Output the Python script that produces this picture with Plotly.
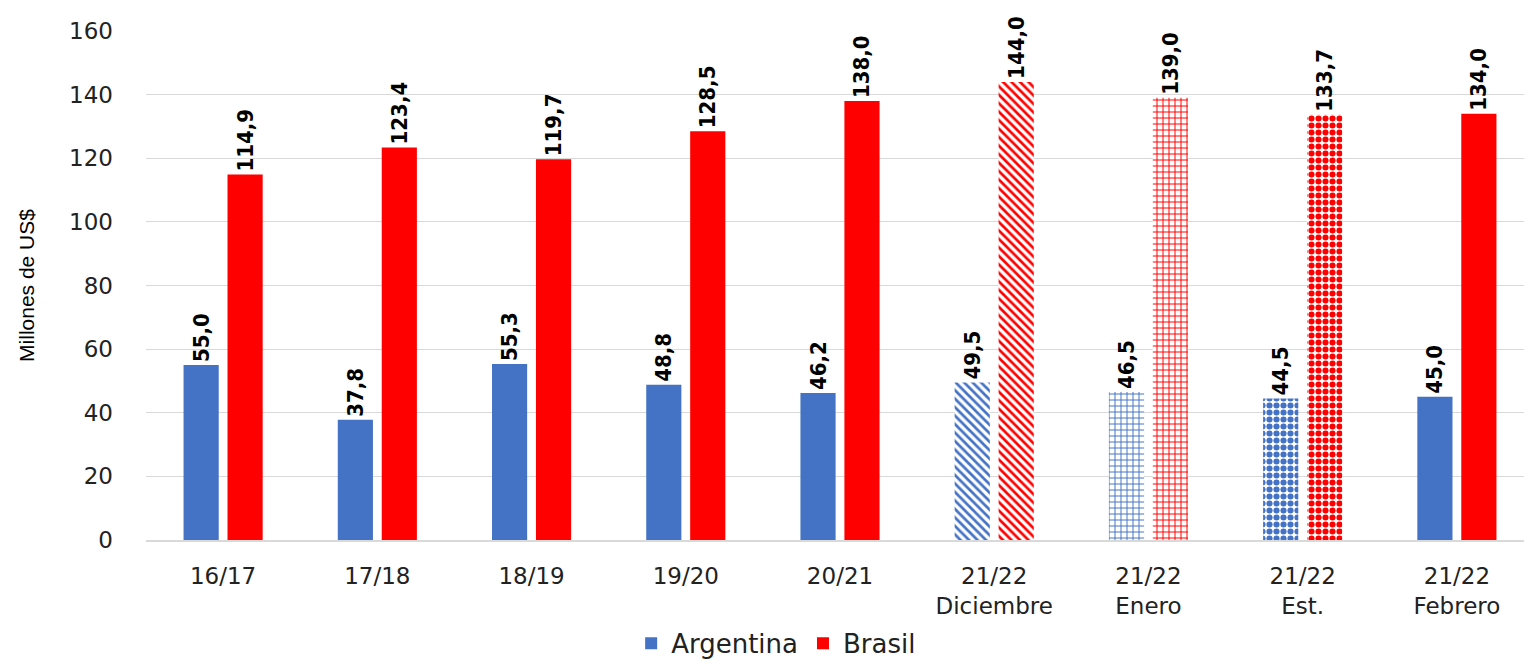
import plotly.graph_objects as go

categories = ["16/17", "17/18", "18/19", "19/20", "20/21",
              "21/22<br>Diciembre", "21/22<br>Enero", "21/22<br>Est.", "21/22<br>Febrero"]
argentina = [55.0, 37.8, 55.3, 48.8, 46.2, 49.5, 46.5, 44.5, 45.0]
brasil = [114.9, 123.4, 119.7, 128.5, 138.0, 144.0, 139.0, 133.7, 134.0]
patterns = ["", "", "", "", "", "\\", "+", ".", ""]
y_ticks = [0, 20, 40, 60, 80, 100, 120, 140, 160]

BLUE = "#4472C4"
RED = "#FF0000"
LABEL_FONT = dict(family="Liberation Sans Narrow, DejaVu Sans Condensed, sans-serif",
                  size=22, color="black", weight="bold")

PAT_SIZE = [8, 8, 8, 8, 8, 6, 6, 7, 8]
PAT_SOLID = [0.3, 0.3, 0.3, 0.3, 0.3, 0.45, 0.3, 0.6, 0.3]


def fmt(v):
    return f"{v:.1f}".replace(".", ",")


def make_trace(name, vals, color):
    return go.Bar(
        name=name, x=categories, y=vals,
        text=[fmt(v) for v in vals],
        textposition="outside", textangle=-90,
        textfont=LABEL_FONT, cliponaxis=False, constraintext="none",
        marker=dict(
            color=color,
            line=dict(width=0),
            pattern=dict(shape=patterns, fgcolor=color, bgcolor="white",
                         size=PAT_SIZE, solidity=PAT_SOLID, fillmode="replace"),
        ),
    )


fig = go.Figure()
fig.add_trace(make_trace("Argentina", argentina, BLUE))
fig.add_trace(make_trace("Brasil", brasil, RED))

fig.update_layout(
    width=1532, height=664,
    margin=dict(l=138, r=6, t=23, b=132, autoexpand=False),
    paper_bgcolor="white", plot_bgcolor="white",
    barmode="group", bargap=0.43, bargroupgap=0.2,
    font=dict(family="DejaVu Sans, Verdana, sans-serif", size=23, color="#222222"),
    showlegend=True,
    legend=dict(orientation="h", x=0.454, xanchor="center", y=-0.203, yanchor="middle",
                font=dict(size=26, color="#222222")),
)
fig.update_xaxes(
    automargin=False,
    showgrid=False, showline=True, linecolor="#d9d9d9", linewidth=2,
    ticks="", ticklabelstandoff=14,
    tickfont=dict(size=23, color="#222222"),
)
fig.update_yaxes(
    automargin=False,
    range=[0, 160], tickvals=y_ticks, showgrid=True, gridcolor="#d9d9d9", gridwidth=1,
    zeroline=False, showline=False, ticks="", ticklabelstandoff=32,
    tickfont=dict(size=23, color="#222222"),
    title=dict(text="Millones de US$", standoff=28,
               font=dict(family="Liberation Sans, Arial, sans-serif", size=21, color="black")),
)

fig.write_html("out.html")
